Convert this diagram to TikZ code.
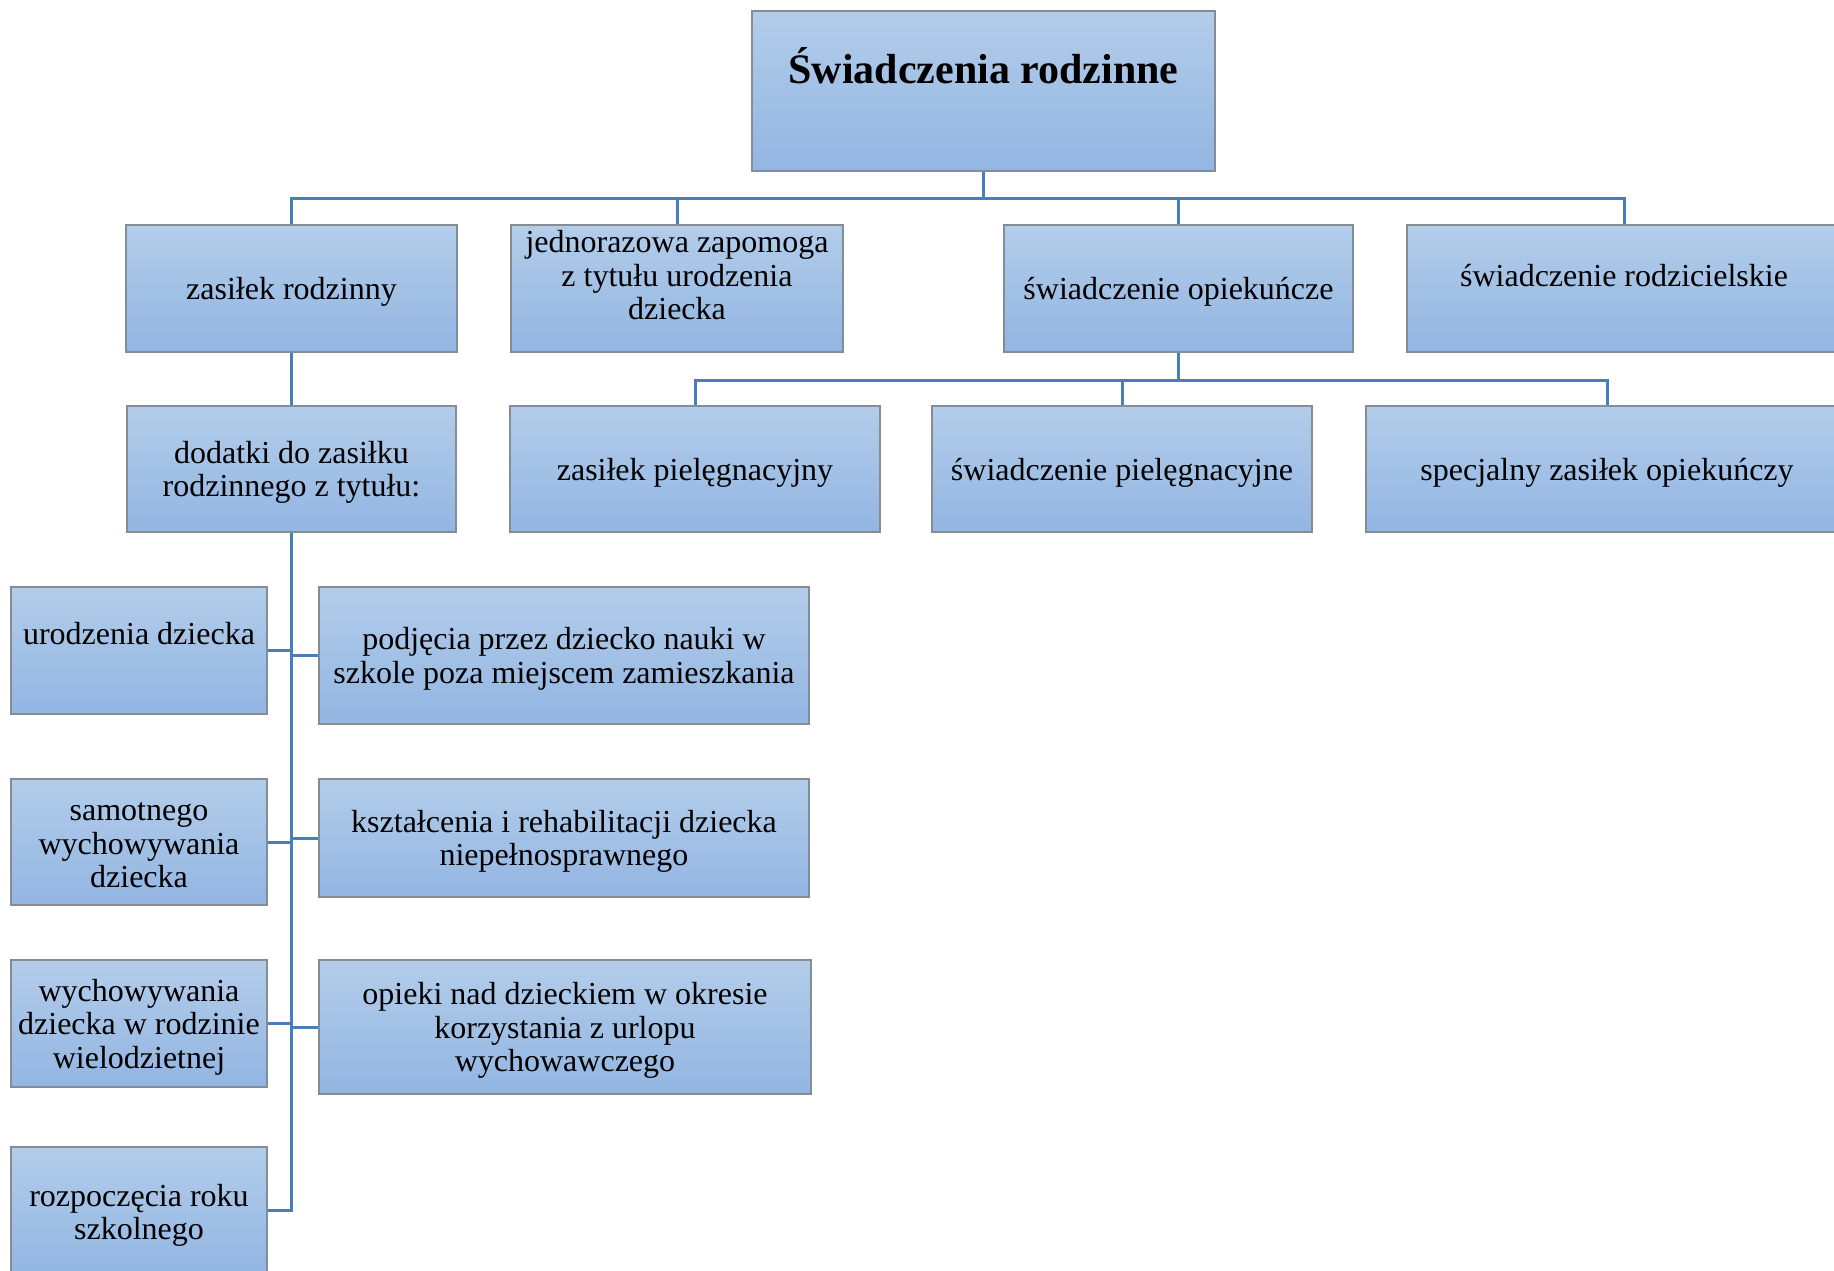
\documentclass[tikz,border=0pt]{standalone}
\usepackage{fontspec}
\setmainfont{Liberation Serif}
\definecolor{boxtop}{HTML}{B3CDEA}
\definecolor{boxbot}{HTML}{92B5E2}
\definecolor{boxline}{HTML}{868C94}
\definecolor{conn}{HTML}{4A7EBB}
\tikzset{
  box/.style={rectangle, draw=boxline, line width=1.5pt, top color=boxtop, bottom color=boxbot, inner sep=0pt},
  txt/.style={align=center, inner sep=0pt, font=\fontsize{32}{33.5}\selectfont},
  ctr/.style={yshift=-3.5pt},
  link/.style={draw=conn, line width=3pt}
}
\begin{document}
\begin{tikzpicture}[x=1pt,y=-1pt]
\clip (0,0) rectangle (1834,1271);
% boxes
\node[box, minimum width=463pt, minimum height=160pt] (top) at (983.5,91) {};
\node[txt, font=\fontsize{42}{44}\selectfont\bfseries] (toptxt) at (983.5,66) {Świadczenia rodzinne};

\node[box, minimum width=331pt, minimum height=127pt] (zr) at (291.5,288.5) {};
\node[txt, ctr] (zrt) at (zr.center) {zasiłek rodzinny};
\node[box, minimum width=332pt, minimum height=127pt] (jz) at (677,288.5) {};
\node[txt] (jzt) at (677,275.5) {jednorazowa zapomoga\\z tytułu urodzenia\\dziecka};
\node[box, minimum width=349pt, minimum height=127pt] (so) at (1178.5,288.5) {};
\node[txt, ctr] (sot) at (so.center) {świadczenie opiekuńcze};
\node[box, minimum width=434pt, minimum height=127pt] (sr) at (1624,288.5) {};
\node[txt] (srt) at (1624,276) {świadczenie rodzicielskie};

\node[box, minimum width=329pt, minimum height=126pt] (dd) at (291.5,469) {};
\node[txt, ctr] (ddt) at (dd.center) {dodatki do zasiłku\\rodzinnego z tytułu:};
\node[box, minimum width=370pt, minimum height=126pt] (zp) at (695,469) {};
\node[txt, ctr] (zpt) at (zp.center) {zasiłek pielęgnacyjny};
\node[box, minimum width=380pt, minimum height=126pt] (sp) at (1122,469) {};
\node[txt, ctr] (spt) at (sp.center) {świadczenie pielęgnacyjne};
\node[box, minimum width=482pt, minimum height=126pt] (szo) at (1607,469) {};
\node[txt, ctr] (szot) at (szo.center) {specjalny zasiłek opiekuńczy};

\node[box, minimum width=256pt, minimum height=127pt] (ur) at (139,650.5) {};
\node[txt] (urt) at (139,634) {urodzenia dziecka};
\node[box, minimum width=256pt, minimum height=126pt] (sam) at (139,842) {};
\node[txt, ctr] (samt) at (sam.center) {samotnego\\wychowywania\\dziecka};
\node[box, minimum width=256pt, minimum height=127pt] (wy) at (139,1023.5) {};
\node[txt, ctr] (wyt) at (wy.center) {wychowywania\\dziecka w rodzinie\\wielodzietnej};
\node[box, minimum width=256pt, minimum height=126pt] (roz) at (139,1210) {};
\node[txt, ctr] (rozt) at (139,1212) {rozpoczęcia roku\\szkolnego};

\node[box, minimum width=490pt, minimum height=137pt] (pod) at (564,655.5) {};
\node[txt, ctr] (podt) at (pod.center) {podjęcia przez dziecko nauki w\\szkole poza miejscem zamieszkania};
\node[box, minimum width=490pt, minimum height=118pt] (ksz) at (564,838) {};
\node[txt, ctr] (kszt) at (ksz.center) {kształcenia i rehabilitacji dziecka\\niepełnosprawnego};
\node[box, minimum width=492pt, minimum height=134pt] (opi) at (565,1027) {};
\node[txt, ctr] (opit) at (opi.center) {opieki nad dzieckiem w okresie\\korzystania z urlopu\\wychowawczego};

% connectors
\coordinate (hub1) at (983.5,198);
\draw[link] (top.south) -- (hub1);
\draw[link] (hub1) -| (zr.north);
\draw[link] (hub1) -| (jz.north);
\draw[link] (hub1) -| (so.north);
\draw[link] (hub1) -| (sr.north);

\coordinate (hub2) at (1178.5,380);
\draw[link] (so.south) -- (hub2);
\draw[link] (hub2) -| (zp.north);
\draw[link] (hub2) -| (sp.north);
\draw[link] (hub2) -| (szo.north);

\draw[link] (zr.south) -- (dd.north);

\draw[link] (dd.south) |- (roz.east);
\draw[link] (ur.east) -- (ur.east -| dd.south);
\draw[link] (sam.east) -- (sam.east -| dd.south);
\draw[link] (wy.east) -- (wy.east -| dd.south);
\draw[link] (pod.west) -- (pod.west -| dd.south);
\draw[link] (ksz.west) -- (ksz.west -| dd.south);
\draw[link] (opi.west) -- (opi.west -| dd.south);
\end{tikzpicture}
\end{document}
